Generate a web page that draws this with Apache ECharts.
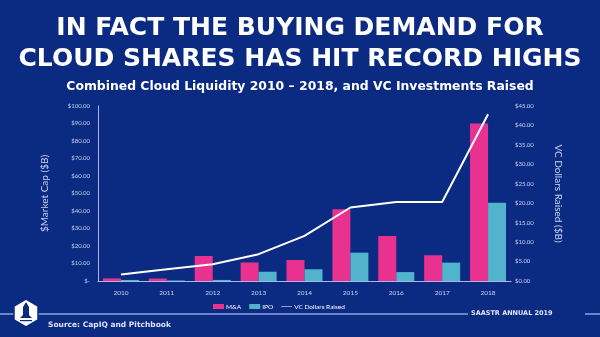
<!DOCTYPE html>
<html>
<head>
<meta charset="utf-8">
<script src="https://cdn.jsdelivr.net/npm/echarts@6/dist/echarts.min.js"></script>
<style>
html,body{margin:0;padding:0;background:#0b2a82;}
#chart{width:600px;height:337px;}
</style>
</head>
<body>
<div id="chart"></div>
<script>
var categories = ['2010','2011','2012','2013','2014','2015','2016','2017','2018'];
var mnaValues = [1.5, 1.4, 14.3, 10.6, 12.0, 41.0, 25.7, 14.7, 90.0];
var ipoValues = [0.6, 0.3, 0.6, 5.3, 6.7, 16.2, 5.1, 10.5, 44.7];
var vcValues = [1.7, 3.0, 4.3, 6.9, 11.6, 18.9, 20.3, 20.3, 42.9];
var leftTicks = ['$-','$10.00','$20.00','$30.00','$40.00','$50.00','$60.00','$70.00','$80.00','$90.00','$100.00'];
var rightTicks = ['$0.00','$5.00','$10.00','$15.00','$20.00','$25.00','$30.00','$35.00','$40.00','$45.00'];

var BG = '#0b2a82';
var PINK = '#e9318f';
var CYAN = '#52b4cc';
var AXIS_TXT = '#c9d2ee';

var chart = echarts.init(document.getElementById('chart'), null, {renderer:'canvas'});
chart.setOption({
  backgroundColor: BG,
  animation: false,
  title: [
    {
      text: 'IN FACT THE BUYING DEMAND FOR\nCLOUD SHARES HAS HIT RECORD HIGHS',
      left: 'center', top: 8,
      textStyle: {color:'#ffffff', fontFamily:'DejaVu Sans', fontWeight:'bold', fontSize:25, lineHeight:31}
    },
    {
      text: 'Combined Cloud Liquidity 2010 \u2013 2018, and VC Investments Raised',
      left: 'center', top: 76,
      textStyle: {color:'#ffffff', fontFamily:'DejaVu Sans', fontWeight:'bold', fontSize:12.4}
    },
    {
      text: 'Source: CapIQ and Pitchbook',
      left: 43, top: 316,
      textStyle: {color:'#dfe5f7', fontFamily:'DejaVu Sans', fontWeight:'bold', fontSize:7.5}
    },
    {
      text: 'SAASTR ANNUAL 2019',
      left: 466, top: 305,
      textStyle: {color:'#dfe5f7', fontFamily:'DejaVu Sans', fontSize:6.5}
    }
  ],
  legend: {
    top: 298, left: 208,
    itemWidth: 11, itemHeight: 5, itemGap: 8,
    textStyle: {color:'#ffffff', fontFamily:'Lato', fontSize:6.5, padding:[0,0,0,-3]},
    data: [
      {name:'M&A', icon:'rect'},
      {name:'IPO', icon:'rect'},
      {name:'VC Dollars Raised', icon:'path://M0,9 L40,9 L40,11 L0,11 Z'}
    ]
  },
  grid: {left: 98, right: 89, top: 106, bottom: 56},
  xAxis: {
    type: 'category',
    data: categories,
    axisLine: {lineStyle: {color:'#aab8e6', width:1}},
    axisTick: {show:false},
    axisLabel: {color: AXIS_TXT, fontFamily:'Lato', fontSize:6.5, margin:8}
  },
  yAxis: [
    {
      type: 'value', min: 0, max: 100, interval: 10,
      name: '$Market Cap ($B)', nameLocation: 'middle', nameRotate: 90, nameGap: 48,
      nameTextStyle: {color:'#c9d2ee', fontFamily:'Lato', fontSize:10},
      axisLine: {show:true, lineStyle: {color:'#aab8e6', width:1}},
      axisTick: {show:false},
      splitLine: {show:false},
      axisLabel: {
        color: AXIS_TXT, fontFamily:'Lato', fontSize:6, margin:8,
        formatter: function(v){ return leftTicks[Math.round(v/10)]; }
      }
    },
    {
      type: 'value', min: 0, max: 45, interval: 5,
      name: 'VC Dollars Raised ($B)', nameLocation: 'middle', nameRotate: -90, nameGap: 42,
      nameTextStyle: {color:'#c9d2ee', fontFamily:'Lato', fontSize:10},
      axisLine: {show:false},
      axisTick: {show:false},
      splitLine: {show:false},
      axisLabel: {
        color: AXIS_TXT, fontFamily:'Lato', fontSize:6, margin:4,
        formatter: function(v){ return rightTicks[Math.round(v/5)]; }
      }
    }
  ],
  series: [
    {name:'M&A', type:'bar', data: mnaValues, itemStyle:{color:PINK}, barWidth:18, barGap:'0%'},
    {name:'IPO', type:'bar', data: ipoValues, itemStyle:{color:CYAN}, barWidth:18, barGap:'0%'},
    {name:'VC Dollars Raised', type:'line', yAxisIndex:1, data: vcValues, symbol:'none',
     itemStyle:{color:'#ffffff'}, lineStyle:{color:'#ffffff', width:2}, z:5}
  ],
  graphic: [
    {type:'line', shape:{x1:0, y1:314, x2:468, y2:314}, style:{stroke:'#8ea3e2', lineWidth:1.5}, z:1},
    {type:'line', shape:{x1:585, y1:314, x2:600, y2:314}, style:{stroke:'#8ea3e2', lineWidth:1.5}, z:1},
    {type:'polygon', shape:{points:[[26,299],[38,306],[38,320],[26,327],[14,320],[14,306]]},
     style:{fill:'#ffffff', stroke:'#0b2a82', lineWidth:1.5}, z:10},
    {type:'polygon', shape:{points:[[26,302],[29,307],[29,315],[32,318],[20,318],[23,315],[23,307]]},
     style:{fill:'#0b2a82'}, z:11},
    {type:'rect', shape:{x:20, y:320, width:12, height:1.2}, style:{fill:'#0b2a82'}, z:11}
  ]
});
</script>
</body>
</html>
